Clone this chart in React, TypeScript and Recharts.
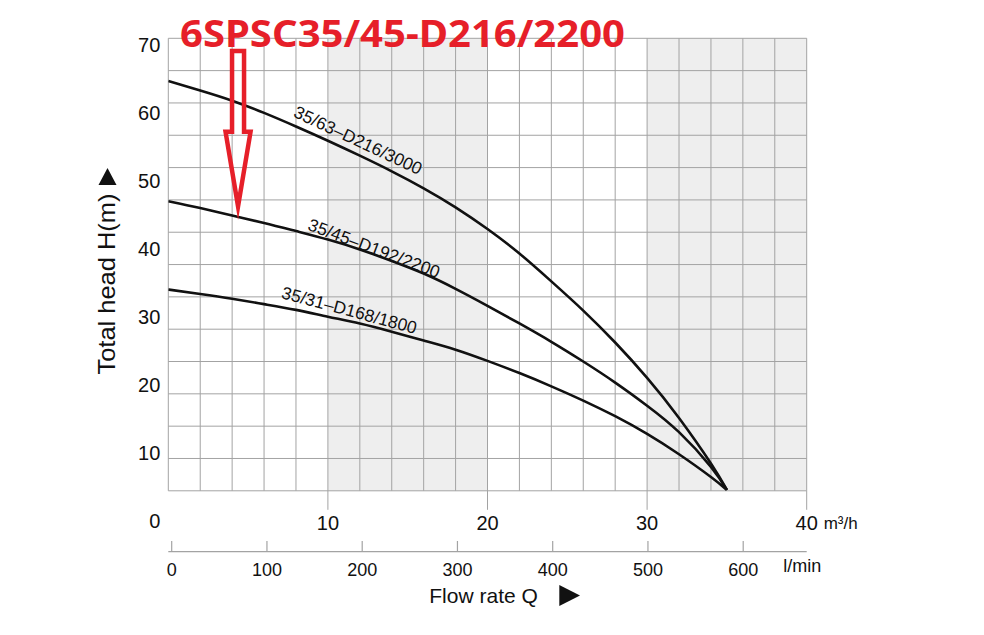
import {
  ComposedChart,
  Line,
  XAxis,
  YAxis,
  CartesianGrid,
  ReferenceArea,
  ReferenceDot,
} from 'recharts';

const FONT = '"Liberation Sans", Arial, Helvetica, sans-serif';
const INK = '#111111';
const GRID = '#a3a3a3';
const RED = '#e61f29';

// flow rate Q in m3/h, head H in m
const FLOW = [0, 2, 4, 6, 8, 10, 12, 14, 16, 18, 20, 22, 24, 26, 28, 30, 32, 34, 35];
const HEAD_3000 = [64.7, 63.3, 61.8, 60.0, 58.0, 55.9, 53.7, 51.4, 48.9, 46.1, 42.9, 39.3, 35.2, 30.9, 26.2, 21.0, 15.1, 8.4, 4.5];
const HEAD_2200 = [47.0, 46.0, 44.9, 43.8, 42.6, 41.35, 39.9, 38.2, 36.35, 34.1, 31.6, 29.0, 26.3, 23.4, 20.3, 16.9, 13.0, 7.9, 4.5];
const HEAD_1800 = [34.0, 33.35, 32.65, 31.85, 31.0, 30.0, 29.0, 27.8, 26.5, 25.15, 23.5, 21.7, 19.75, 17.65, 15.35, 12.75, 9.75, 6.4, 4.5];

const HEAD_TICKS = [0, 10, 20, 30, 40, 50, 60, 70];
const FLOW_TICKS = [0, 2, 4, 6, 8, 10, 12, 14, 16, 18, 20, 22, 24, 26, 28, 30, 32, 34, 36, 38, 40];
const LMIN_TICKS = [0, 100, 200, 300, 400, 500, 600];
const GRID_ROWS = [0, 1, 2, 3, 4, 5, 6, 7, 8, 9, 10, 11, 12, 13, 14];
const SHADED = [
  [10, 20],
  [30, 40],
];

const CURVE_LABELS = [
  { text: '35/63–D216/3000', q: 11.9, h: 56.0, angle: 25 },
  { text: '35/45–D192/2200', q: 12.9, h: 40.1, angle: 20.5 },
  { text: '35/31–D168/1800', q: 11.35, h: 31.0, angle: 15 },
];

const TITLE = '6SPSC35/45-D216/2200';
const POINTER = { q: 4.37, h: 45.2 };

const data = FLOW.map((q, i) => ({
  q,
  lmin: (q * 1000) / 60,
  p3000: HEAD_3000[i],
  p2200: HEAD_2200[i],
  p1800: HEAD_1800[i],
}));

const FlowTick = ({ x, y, payload }: any) => {
  const v = payload.value;
  if (v === 0 || v % 10 !== 0) return null;
  return (
    <g>
      <line x1={x} x2={x} y1={y} y2={y + 19} stroke={GRID} strokeWidth={1} />
      <text x={x} y={y + 32} dy="0.36em" textAnchor="middle" fill={INK} fontSize={20} fontFamily={FONT}>
        {v}
      </text>
    </g>
  );
};

const flowUnit = ({ viewBox }: any) => (
  <text x={viewBox.x + viewBox.width + 17} y={viewBox.y + 38} fill={INK} fontSize={17} fontFamily={FONT}>
    m³/h
  </text>
);

const lminTitle = ({ viewBox }: any) => {
  const { x, y } = viewBox;
  return (
    <g fontFamily={FONT} fill={INK}>
      <text x={x + 615} y={y + 20} fontSize={18}>
        l/min
      </text>
      <text x={x + 261} y={y + 51.6} fontSize={21}>
        Flow rate Q
      </text>
      <path d={`M${x + 391} ${y + 33.3} L${x + 411.7} ${y + 43.8} L${x + 391} ${y + 54.3} Z`} fill={INK} />
    </g>
  );
};

const headTitle = ({ viewBox }: any) => {
  const cx = viewBox.x + 106;
  const cy = viewBox.y + viewBox.height / 2 + 19.5;
  return (
    <g fontFamily={FONT} fill={INK}>
      <text
        x={cx}
        y={cy}
        dy="0.36em"
        textAnchor="middle"
        fontSize={24}
        textLength={181}
        lengthAdjust="spacingAndGlyphs"
        transform={`rotate(-90 ${cx} ${cy})`}
      >
        Total head H(m)
      </text>
      <path d={`M${cx - 7.5} ${cy - 99} L${cx + 10.5} ${cy - 99} L${cx + 1.5} ${cy - 116} Z`} fill={INK} />
    </g>
  );
};

const curveLabel = (text: string, angle: number) => ({ cx, cy }: any) => (
  <text
    x={cx}
    y={cy}
    dy="0.36em"
    textAnchor="middle"
    fontSize={17.5}
    fontFamily={FONT}
    fill={INK}
    transform={`rotate(${angle} ${cx} ${cy})`}
  >
    {text}
  </text>
);

const PointerArrow = ({ cx, cy }: any) => (
  <path
    d={`M${cx - 6} ${cy - 162.5} L${cx + 6} ${cy - 162.5} L${cx + 6} ${cy - 81.6} L${cx + 12.5} ${cy - 81.6} L${cx} ${cy - 7} L${cx - 12.5} ${cy - 81.6} L${cx - 6} ${cy - 81.6} Z`}
    fill="none"
    stroke={RED}
    strokeWidth={4.5}
    strokeMiterlimit={12}
  />
);

const App = () => {
  return (
    <div style={{ position: 'absolute', left: 0, top: 0, width: 984, height: 635, background: '#fff' }}>
      <ComposedChart width={984} height={635} data={data} margin={{ top: 38.3, right: 177.3, bottom: 0, left: 0 }}>
        {SHADED.map(([a, b]) => (
          <ReferenceArea key={a} x1={a} x2={b} fill="#000" fillOpacity={0.065} stroke="none" zIndex={-150} />
        ))}
        <CartesianGrid yAxisId="grid" stroke={GRID} strokeWidth={1} />
        <XAxis
          dataKey="q"
          type="number"
          domain={[0, 40]}
          allowDataOverflow
          ticks={FLOW_TICKS}
          interval={0}
          height={60.9}
          tickSize={0}
          tickMargin={0}
          axisLine={false}
          tickLine={false}
          tick={FlowTick}
          label={flowUnit}
        />
        <XAxis
          xAxisId="lmin"
          dataKey="lmin"
          type="number"
          domain={[0, 2000 / 3]}
          allowDataOverflow
          ticks={LMIN_TICKS}
          interval={0}
          padding={{ left: 3.4, right: 0 }}
          height={83.3}
          tickSize={-10.7}
          tickMargin={22}
          axisLine={{ stroke: GRID, strokeWidth: 1.2 }}
          tickLine={{ stroke: GRID, strokeWidth: 1.2 }}
          tick={{ fill: INK, fontSize: 18, fontFamily: FONT }}
          label={lminTitle}
        />
        <YAxis
          type="number"
          domain={[4.37, 70.98]}
          allowDataOverflow
          ticks={HEAD_TICKS}
          interval={0}
          width={168.3}
          axisLine={false}
          tickLine={false}
          tick={{ fill: INK, fontSize: 20, fontFamily: FONT }}
          label={headTitle}
        />
        <YAxis yAxisId="grid" hide type="number" domain={[0, 14]} allowDataOverflow ticks={GRID_ROWS} interval={0} />
        <Line dataKey="p3000" type="natural" stroke={INK} strokeWidth={2.6} dot={false} isAnimationActive={false} />
        <Line dataKey="p2200" type="natural" stroke={INK} strokeWidth={2.6} dot={false} isAnimationActive={false} />
        <Line dataKey="p1800" type="natural" stroke={INK} strokeWidth={2.6} dot={false} isAnimationActive={false} />
        {CURVE_LABELS.map((l) => (
          <ReferenceDot key={l.text} x={l.q} y={l.h} r={0} shape={curveLabel(l.text, l.angle)} />
        ))}
        <ReferenceDot x={POINTER.q} y={POINTER.h} r={0} shape={PointerArrow} />
      </ComposedChart>
      <svg width={984} height={635} style={{ position: 'absolute', left: 0, top: 0, pointerEvents: 'none' }}>
        <text
          x={180}
          y={46.7}
          fill={RED}
          fontFamily='"Noto Sans", sans-serif'
          fontWeight={700}
          fontSize={37}
          textLength={445}
          lengthAdjust="spacingAndGlyphs"
        >
          {TITLE}
        </text>
      </svg>
    </div>
  );
};

export default App;
